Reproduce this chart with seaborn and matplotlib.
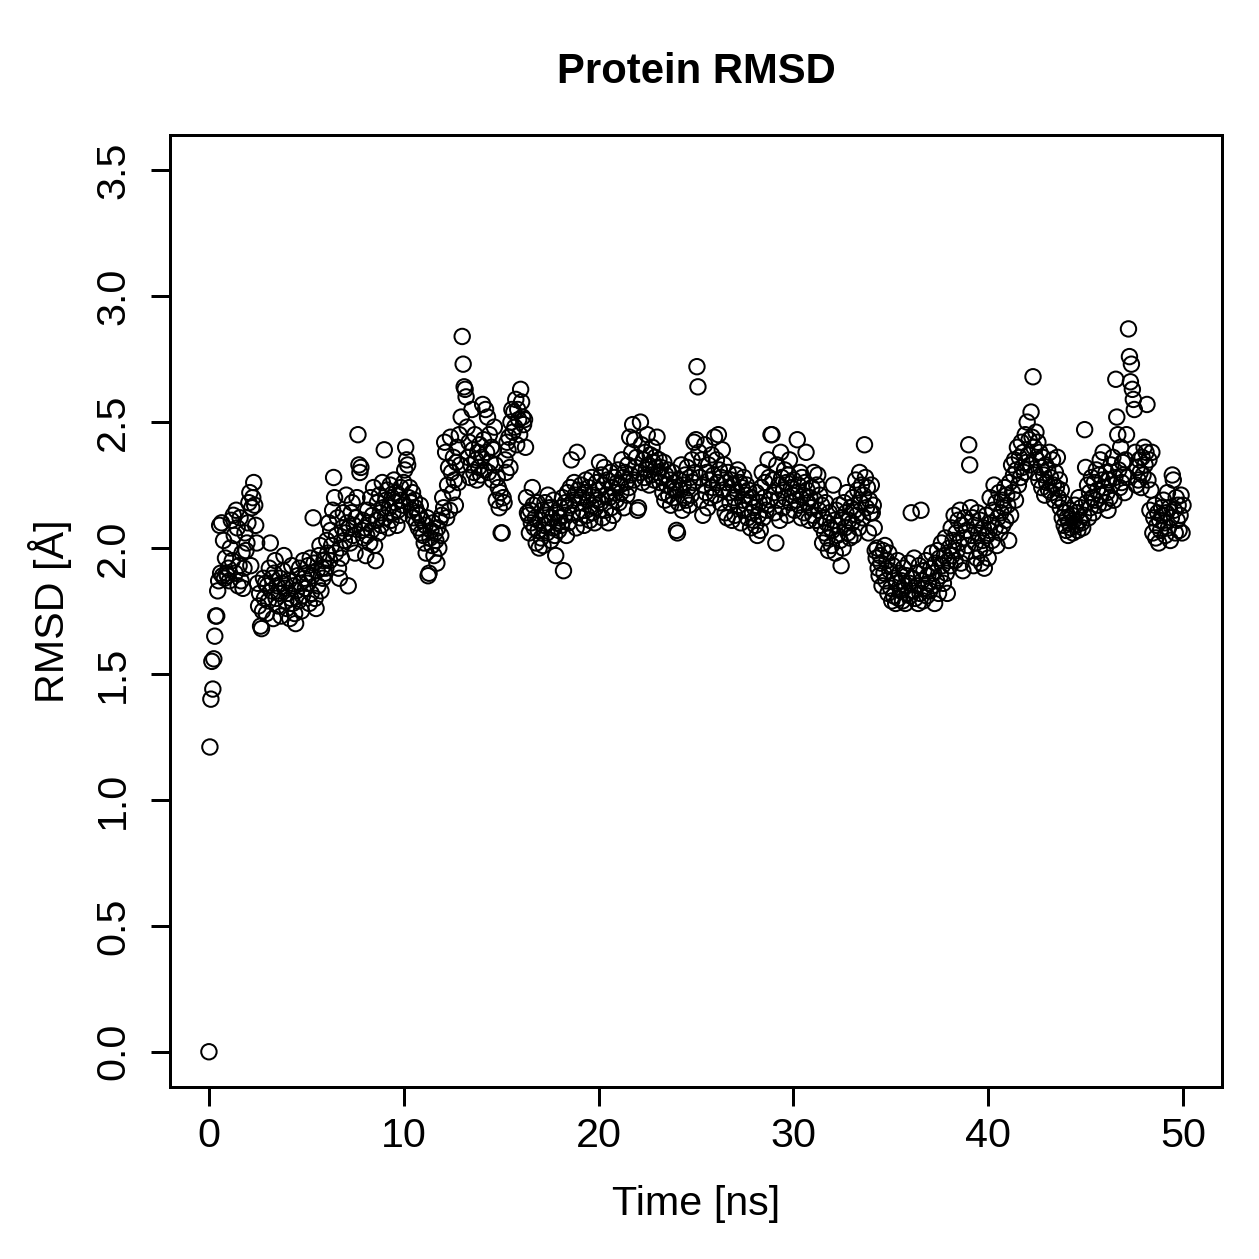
import numpy as np
import pandas as pd
import seaborn as sns
import matplotlib.pyplot as plt

rmsd = [
    0.00, 1.21, 1.40, 1.55, 1.44, 1.56, 1.65, 1.73, 1.73, 1.83, 1.87, 2.09, 1.90, 2.10, 1.89, 2.03, 1.88, 1.96, 1.90, 1.89,
    1.92, 1.87, 2.00, 2.11, 1.95, 2.13, 2.05, 1.90, 2.15, 2.08, 1.85, 1.93, 2.12, 1.87, 1.98, 1.84, 1.92, 2.06, 1.99, 2.02,
    2.10, 2.18, 2.22, 1.93, 2.16, 2.20, 2.26, 2.17, 2.09, 2.02, 1.86, 1.77, 1.82, 1.69, 1.68, 1.75, 1.88, 1.80, 1.86, 1.74,
    1.85, 1.79, 1.92, 2.02, 1.83, 1.88, 1.72, 1.90, 1.95, 1.80, 1.85, 1.77, 1.82, 1.88, 1.73, 1.86, 1.91, 1.97, 1.84, 1.79,
    1.76, 1.82, 1.87, 1.72, 1.80, 1.93, 1.78, 1.85, 1.74, 1.70, 1.83, 1.89, 1.79, 1.92, 1.86, 1.75, 1.81, 1.95, 1.88, 1.84,
    1.90, 1.86, 1.93, 1.78, 1.96, 1.82, 1.89, 2.12, 1.94, 1.80, 1.76, 1.91, 1.85, 1.97, 2.01, 1.83, 1.92, 1.88, 1.95, 1.90,
    1.92, 2.03, 1.98, 2.10, 1.95, 2.07, 2.01, 2.15, 2.28, 2.20, 1.98, 2.05, 2.12, 1.92, 1.88, 2.00, 1.96, 2.08, 2.14, 2.03,
    2.06, 2.21, 2.10, 1.85, 2.08, 2.02, 2.14, 2.18, 2.05, 2.09, 1.98, 2.12, 2.20, 2.45, 2.33, 2.30, 2.32, 2.07, 2.11, 2.04,
    2.08, 1.97, 2.05, 2.15, 2.10, 2.02, 2.20, 2.07, 2.13, 2.24, 2.01, 1.95, 2.11, 2.18, 2.06, 2.21, 2.14, 2.09, 2.26, 2.16,
    2.39, 2.12, 2.19, 2.23, 2.08, 2.16, 2.25, 2.11, 2.20, 2.14, 2.27, 2.18, 2.22, 2.09, 2.15, 2.21, 2.13, 2.24, 2.19, 2.17,
    2.26, 2.31, 2.40, 2.35, 2.33, 2.20, 2.24, 2.18, 2.15, 2.22, 2.12, 2.19, 2.16, 2.10, 2.14, 2.08, 2.13, 2.17, 2.06, 2.11,
    2.05, 2.02, 2.09, 1.98, 2.12, 1.89, 1.90, 2.04, 2.07, 2.01, 2.10, 1.97, 2.06, 2.03, 1.94, 2.08, 2.00, 2.11, 2.05, 2.13,
    2.20, 2.16, 2.42, 2.38, 2.12, 2.25, 2.32, 2.15, 2.44, 2.30, 2.22, 2.36, 2.27, 2.17, 2.34, 2.40, 2.26, 2.45, 2.33, 2.52,
    2.84, 2.73, 2.64, 2.63, 2.60, 2.48, 2.36, 2.42, 2.28, 2.33, 2.55, 2.39, 2.30, 2.45, 2.35, 2.27, 2.38, 2.32, 2.41, 2.29,
    2.36, 2.57, 2.43, 2.31, 2.55, 2.38, 2.52, 2.30, 2.45, 2.34, 2.40, 2.27, 2.39, 2.48, 2.33, 2.19, 2.28, 2.24, 2.16, 2.22,
    2.06, 2.06, 2.20, 2.18, 2.35, 2.30, 2.42, 2.39, 2.44, 2.32, 2.50, 2.55, 2.46, 2.54, 2.48, 2.59, 2.41, 2.55, 2.51, 2.45,
    2.63, 2.58, 2.52, 2.49, 2.51, 2.40, 2.20, 2.14, 2.13, 2.06, 2.15, 2.10, 2.24, 2.17, 2.08, 2.12, 2.02, 2.18, 2.07, 2.00,
    2.11, 2.04, 2.15, 2.01, 2.09, 2.18, 2.13, 2.06, 2.21, 2.10, 2.16, 2.03, 2.12, 2.08, 2.19, 2.05, 1.97, 2.14, 2.10, 2.07,
    2.12, 2.16, 2.09, 2.20, 1.91, 2.13, 2.18, 2.05, 2.22, 2.10, 2.17, 2.24, 2.35, 2.14, 2.19, 2.26, 2.21, 2.08, 2.38, 2.23,
    2.18, 2.12, 2.25, 2.20, 2.15, 2.09, 2.22, 2.27, 2.13, 2.19, 2.24, 2.11, 2.17, 2.28, 2.14, 2.21, 2.10, 2.16, 2.26, 2.19,
    2.23, 2.34, 2.18, 2.29, 2.12, 2.25, 2.32, 2.15, 2.21, 2.27, 2.10, 2.20, 2.30, 2.16, 2.24, 2.13, 2.28, 2.22, 2.19, 2.26,
    2.31, 2.18, 2.25, 2.22, 2.35, 2.28, 2.16, 2.30, 2.26, 2.21, 2.33, 2.24, 2.44, 2.29, 2.38, 2.49, 2.27, 2.43, 2.32, 2.36,
    2.15, 2.16, 2.30, 2.50, 2.41, 2.26, 2.35, 2.28, 2.38, 2.31, 2.45, 2.33, 2.25, 2.37, 2.29, 2.40, 2.34, 2.27, 2.36, 2.32,
    2.44, 2.30, 2.35, 2.26, 2.32, 2.28, 2.22, 2.34, 2.19, 2.29, 2.25, 2.31, 2.21, 2.27, 2.17, 2.24, 2.30, 2.20, 2.26, 2.23,
    2.07, 2.06, 2.18, 2.27, 2.23, 2.33, 2.15, 2.25, 2.20, 2.29, 2.19, 2.32, 2.24, 2.17, 2.28, 2.21, 2.35, 2.26, 2.42, 2.30,
    2.43, 2.72, 2.64, 2.38, 2.28, 2.19, 2.35, 2.13, 2.25, 2.41, 2.22, 2.30, 2.16, 2.33, 2.27, 2.20, 2.37, 2.24, 2.29, 2.44,
    2.21, 2.35, 2.26, 2.45, 2.31, 2.18, 2.28, 2.39, 2.23, 2.33, 2.14, 2.26, 2.12, 2.30, 2.22, 2.18, 2.27, 2.11, 2.25, 2.20,
    2.13, 2.29, 2.22, 2.31, 2.17, 2.26, 2.10, 2.24, 2.19, 2.28, 2.15, 2.21, 2.25, 2.12, 2.23, 2.18, 2.08, 2.20, 2.14, 2.11,
    2.16, 2.09, 2.22, 2.05, 2.13, 2.18, 2.07, 2.24, 2.30, 2.12, 2.20, 2.26, 2.15, 2.17, 2.35, 2.28, 2.19, 2.45, 2.45, 2.27,
    2.22, 2.14, 2.02, 2.33, 2.19, 2.25, 2.11, 2.38, 2.28, 2.16, 2.23, 2.31, 2.20, 2.26, 2.13, 2.29, 2.35, 2.18, 2.24, 2.21,
    2.27, 2.15, 2.22, 2.19, 2.43, 2.25, 2.17, 2.30, 2.12, 2.28, 2.21, 2.14, 2.26, 2.38, 2.23, 2.18, 2.11, 2.20, 2.16, 2.24,
    2.13, 2.30, 2.19, 2.11, 2.25, 2.29, 2.15, 2.21, 2.09, 2.17, 2.02, 2.12, 2.06, 2.18, 2.10, 2.04, 1.99, 2.14, 2.08, 2.01,
    2.07, 2.25, 2.11, 1.98, 2.15, 2.05, 2.09, 2.17, 2.03, 1.93, 2.12, 2.00, 2.18, 2.08, 2.14, 2.22, 2.06, 2.11, 2.04, 2.16,
    2.10, 2.20, 2.05, 2.15, 2.27, 2.13, 2.23, 2.08, 2.30, 2.18, 2.25, 2.12, 2.21, 2.41, 2.28, 2.16, 2.24, 2.06, 2.19, 2.14,
    2.25, 2.14, 2.17, 2.08, 1.99, 1.96, 2.00, 1.92, 1.89, 1.97, 1.94, 1.85, 1.99, 1.90, 2.01, 1.87, 1.95, 1.82, 1.98, 1.91,
    1.84, 1.79, 1.93, 1.81, 1.88, 1.78, 1.86, 1.95, 1.80, 1.90, 1.83, 1.87, 1.79, 1.92, 1.85, 1.78, 1.89, 1.82, 1.94, 1.86,
    1.81, 2.14, 1.88, 1.83, 1.96, 1.80, 1.90, 1.85, 1.78, 1.93, 1.82, 2.15, 1.87, 1.79, 1.91, 1.84, 1.95, 1.81, 1.89, 1.86,
    1.83, 1.92, 1.98, 1.85, 1.90, 1.78, 1.94, 1.87, 1.99, 1.82, 1.96, 1.89, 2.02, 1.93, 1.86, 1.97, 2.04, 1.90, 1.82, 1.95,
    2.00, 1.93, 2.08, 1.97, 2.03, 2.13, 1.95, 2.06, 1.99, 2.11, 2.02, 2.15, 1.94, 2.09, 1.91, 2.04, 2.12, 1.98, 2.07, 2.01,
    2.41, 2.33, 2.16, 2.05, 2.12, 1.93, 2.09, 2.02, 1.96, 2.14, 2.06, 1.99, 2.11, 1.94, 2.03, 2.08, 1.92, 2.00, 2.13, 2.05,
    1.96, 2.07, 2.20, 2.10, 2.03, 2.15, 2.25, 2.08, 2.18, 2.01, 2.12, 2.22, 2.06, 2.14, 2.19, 2.09, 2.16, 2.24, 2.11, 2.21,
    2.17, 2.03, 2.26, 2.13, 2.33, 2.22, 2.29, 2.35, 2.19, 2.31, 2.40, 2.25, 2.36, 2.28, 2.42, 2.32, 2.38, 2.30, 2.45, 2.34,
    2.50, 2.37, 2.43, 2.33, 2.54, 2.44, 2.68, 2.40, 2.30, 2.46, 2.35, 2.42, 2.27, 2.38, 2.32, 2.24, 2.36, 2.29, 2.21, 2.33,
    2.26, 2.31, 2.23, 2.38, 2.28, 2.22, 2.35, 2.25, 2.19, 2.30, 2.24, 2.36, 2.20, 2.27, 2.16, 2.23, 2.12, 2.18, 2.09, 2.14,
    2.07, 2.12, 2.05, 2.10, 2.15, 2.08, 2.13, 2.06, 2.11, 2.17, 2.09, 2.14, 2.07, 2.20, 2.11, 2.16, 2.10, 2.08, 2.13, 2.47,
    2.32, 2.18, 2.25, 2.12, 2.22, 2.16, 2.28, 2.20, 2.14, 2.26, 2.19, 2.31, 2.23, 2.17, 2.29, 2.35, 2.21, 2.27, 2.38, 2.24,
    2.18, 2.30, 2.22, 2.15, 2.27, 2.20, 2.33, 2.25, 2.36, 2.19, 2.28, 2.67, 2.52, 2.45, 2.31, 2.24, 2.40, 2.26, 2.34, 2.29,
    2.22, 2.35, 2.45, 2.28, 2.87, 2.76, 2.66, 2.73, 2.63, 2.59, 2.55, 2.38, 2.25, 2.32, 2.27, 2.35, 2.30, 2.24, 2.36, 2.29,
    2.40, 2.33, 2.38, 2.57, 2.27, 2.35, 2.15, 2.23, 2.38, 2.06, 2.12, 2.17, 2.04, 2.09, 2.14, 2.02, 2.11, 2.07, 2.16, 2.13,
    2.19, 2.10, 2.05, 2.14, 2.22, 2.08, 2.16, 2.03, 2.12, 2.29, 2.27, 2.15, 2.06, 2.20, 2.11, 2.17, 2.07, 2.13, 2.21, 2.06,
    2.17,
]
# frames every 0.05 ns
time_ns = np.round(np.arange(len(rmsd)) * 0.05, 2)

x_ticks = [0, 10, 20, 30, 40, 50]
y_ticks = [0.0, 0.5, 1.0, 1.5, 2.0, 2.5, 3.0, 3.5]

df = pd.DataFrame({'time': time_ns, 'rmsd': rmsd})

sns.set_style('ticks')
plt.rcParams['font.family'] = ['Liberation Sans', 'DejaVu Sans']
plt.rcParams['text.color'] = 'black'
plt.rcParams['axes.labelcolor'] = 'black'

fig = plt.figure(figsize=(7, 7), dpi=1259 / 7)
ax = fig.add_axes([0.135, 0.1366, 0.8356, 0.7562])

sns.scatterplot(data=df, x='time', y='rmsd', ax=ax, marker='o', s=38,
                facecolors='none', edgecolor='black', linewidth=0.8)

ax.set_xlim(-2, 52)
ax.set_ylim(-0.14, 3.64)
ax.set_xticks(x_ticks)
ax.set_xticklabels([str(t) for t in x_ticks])
ax.set_yticks(y_ticks)
ax.set_yticklabels([f'{v:.1f}' for v in y_ticks], rotation=90, va='center')
ax.tick_params(direction='out', length=7.6, width=1.2, labelsize=16.5, colors='black')
ax.tick_params(axis='x', pad=4.4)
ax.tick_params(axis='y', pad=7.6)
for sp in ax.spines.values():
    sp.set_linewidth(1.2)
    sp.set_color('black')

ax.set_xlabel('Time [ns]', fontsize=16.5)
ax.set_ylabel('RMSD [Å]', fontsize=16.5)
ax.xaxis.set_label_coords(0.5, -0.103)
ax.yaxis.set_label_coords(-0.093, 0.5)
ax.set_title('Protein RMSD', fontsize=16.8, fontweight='bold', pad=21)

fig.savefig('out.png', dpi=1259 / 7)
